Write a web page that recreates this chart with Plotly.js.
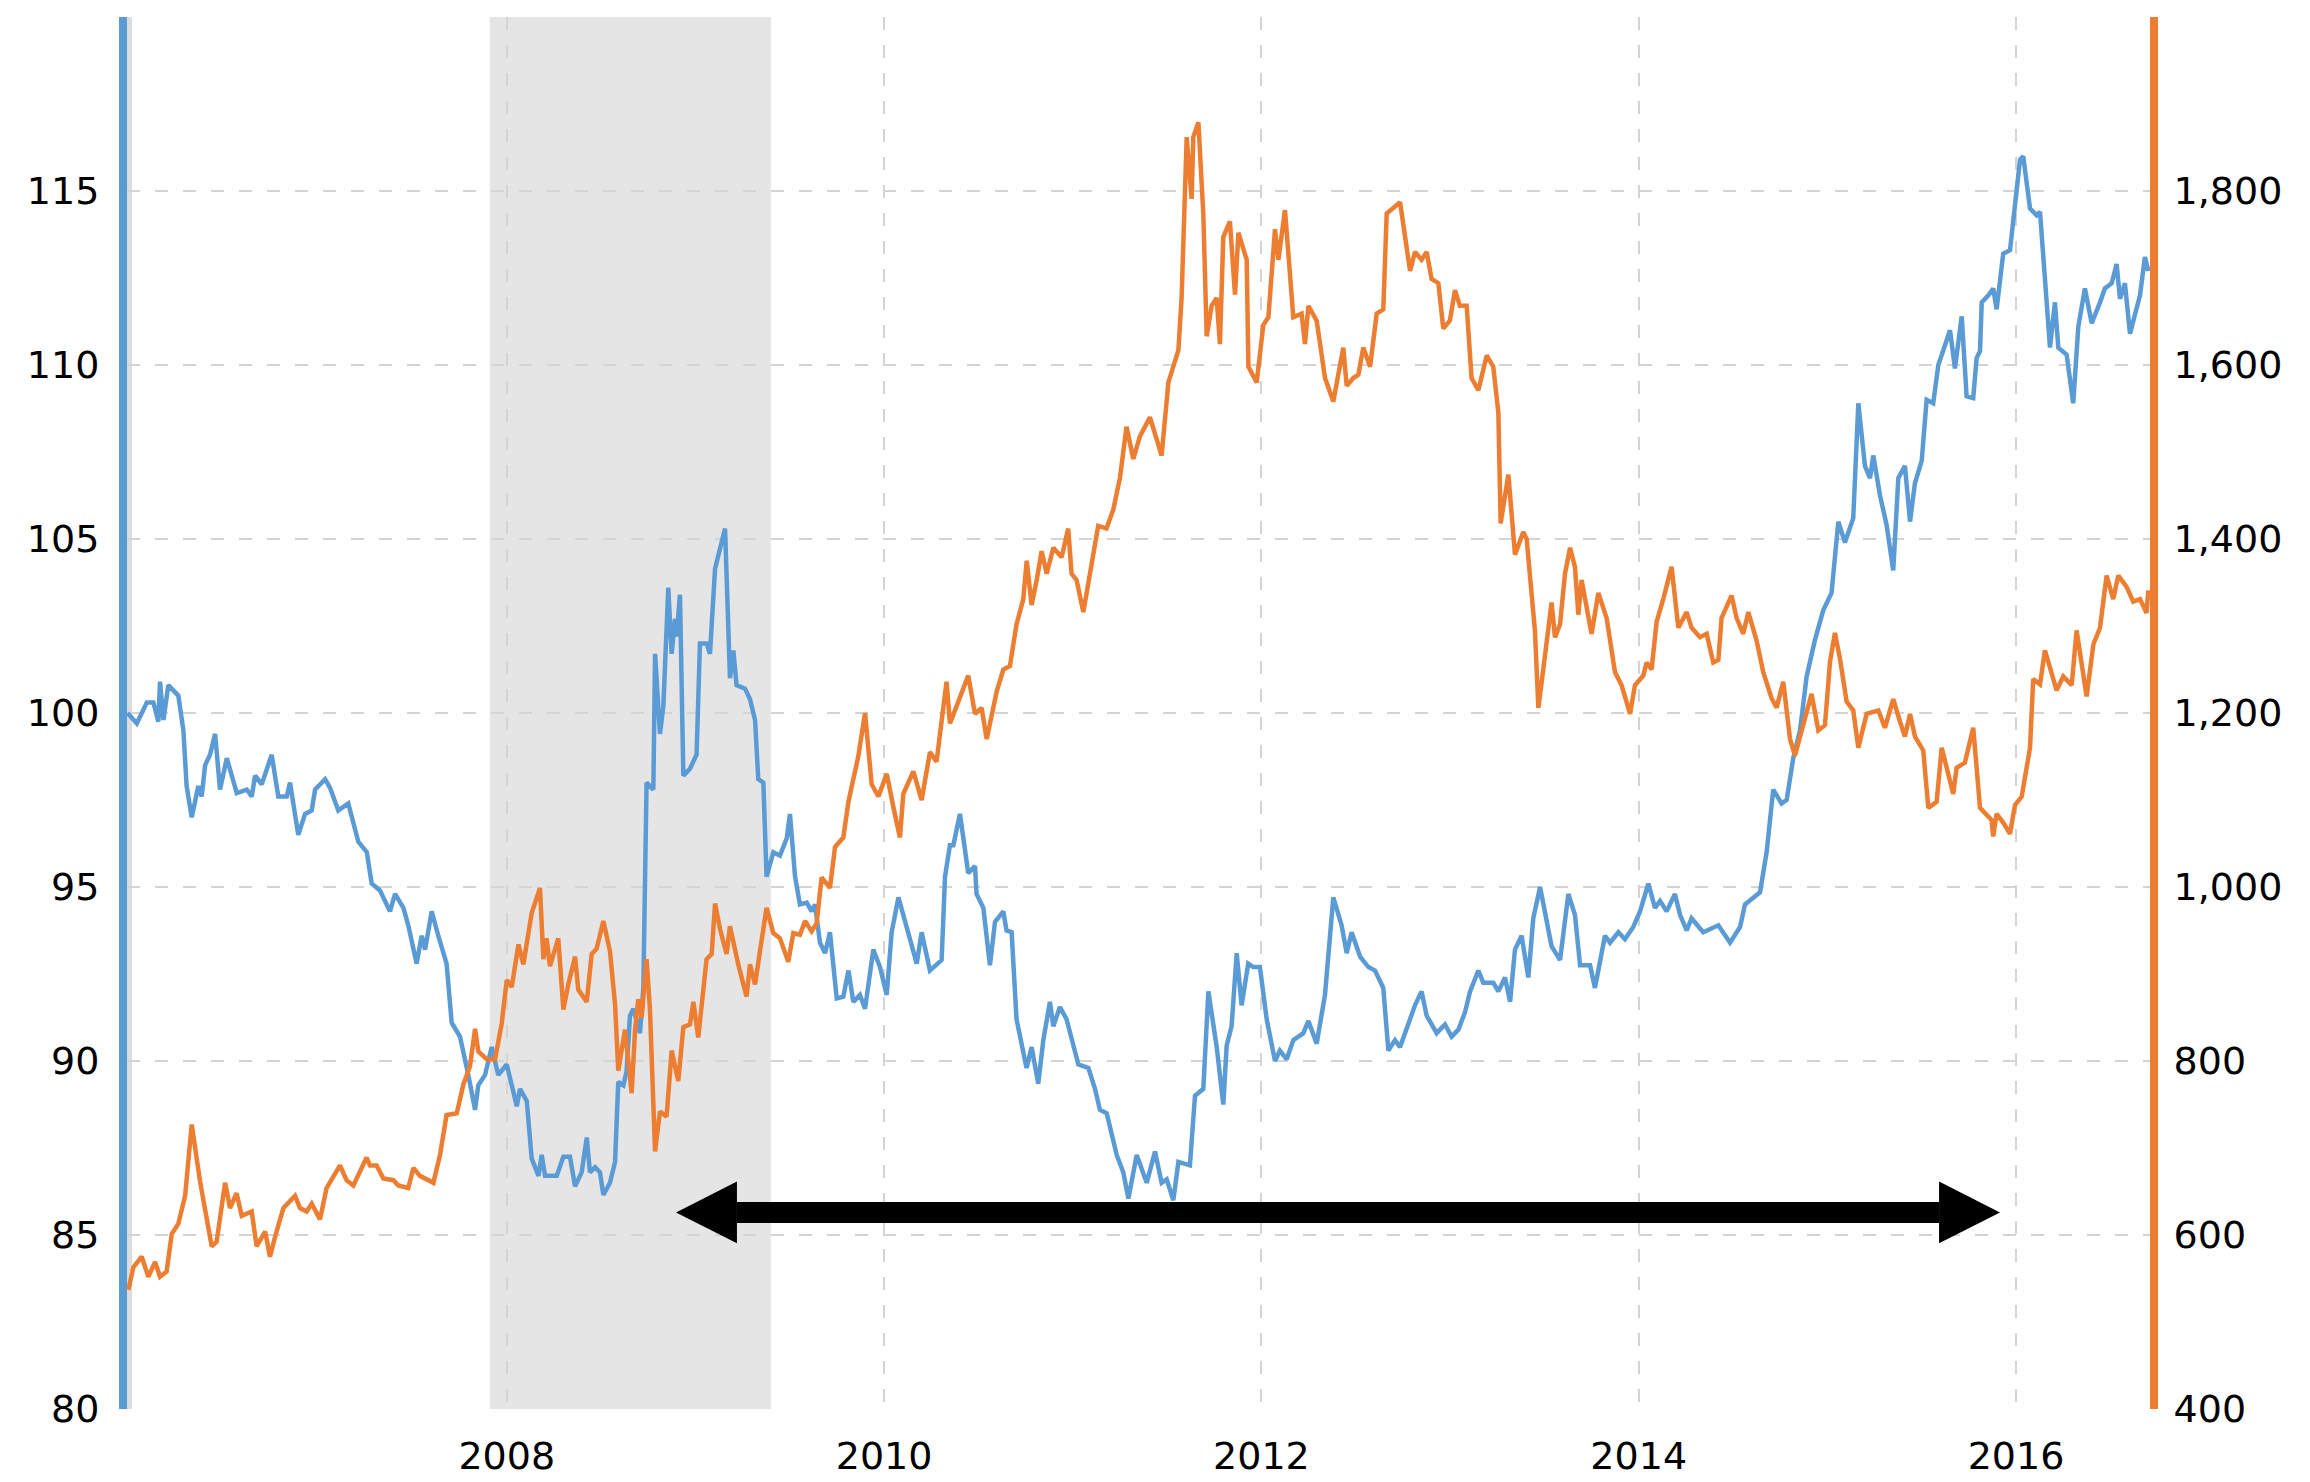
<!DOCTYPE html>
<html>
<head>
<meta charset="utf-8">
<script src="https://cdn.plot.ly/plotly-3.0.1.min.js"></script>
<style>html,body{margin:0;padding:0;background:#fff;}#chart{width:2310px;height:1482px;}</style>
</head>
<body>
<div id="chart"></div>
<script>
// ---- Data ----
// Blue series (left axis), x in decimal years
const blueYears = [
2005.99,2006.039,2006.092,2006.127,2006.153,2006.162,2006.18,2006.206,2006.259,2006.286,2006.303,2006.33,2006.365,2006.383,2006.401,2006.427,2006.454,2006.48,2006.516,2006.569,2006.622,2006.648,2006.666,2006.701,2006.754,2006.789,2006.834,2006.851,2006.895,2006.931,2006.966,2006.984,
2007.037,2007.063,2007.107,2007.16,2007.213,2007.258,2007.284,2007.328,2007.381,2007.408,2007.452,2007.478,2007.522,2007.549,2007.567,2007.602,2007.637,2007.681,2007.708,2007.752,2007.796,2007.832,2007.849,2007.885,2007.92,2007.955,
2008.0,2008.026,2008.053,2008.07,2008.106,2008.132,2008.168,2008.185,2008.203,2008.265,2008.3,2008.335,2008.362,2008.397,2008.424,2008.441,2008.468,2008.494,2008.512,2008.547,2008.574,2008.591,2008.618,2008.635,2008.653,2008.671,2008.706,2008.724,2008.741,2008.777,2008.786,2008.812,2008.83,2008.856,2008.874,2008.892,2008.9,2008.918,2008.936,2008.971,
2009.006,2009.024,2009.059,2009.077,2009.104,2009.157,2009.183,2009.201,2009.218,2009.263,2009.289,2009.316,2009.333,2009.36,2009.377,2009.413,2009.448,2009.484,2009.501,2009.528,2009.554,2009.59,2009.616,2009.634,2009.66,2009.687,2009.713,2009.749,2009.784,2009.811,2009.837,2009.872,2009.899,2009.943,2009.978,
2010.014,2010.04,2010.076,2010.12,2010.173,2010.199,2010.243,2010.305,2010.323,2010.349,2010.367,2010.402,2010.446,2010.482,2010.49,2010.526,2010.561,2010.588,2010.632,2010.649,2010.676,2010.702,2010.755,2010.782,2010.817,2010.844,2010.879,2010.897,2010.932,2010.967,2010.994,
2011.03,2011.083,2011.118,2011.144,2011.18,2011.233,2011.268,2011.295,2011.339,2011.392,2011.436,2011.471,2011.498,2011.533,2011.56,2011.621,2011.648,2011.692,2011.719,2011.763,2011.798,2011.816,2011.842,2011.869,2011.895,2011.93,2011.957,2011.992,
2012.028,2012.072,2012.098,2012.134,2012.169,2012.222,2012.249,2012.293,2012.337,2012.381,2012.425,2012.452,2012.478,2012.523,2012.567,2012.602,2012.646,2012.673,2012.708,2012.735,2012.77,2012.814,2012.849,2012.876,2012.929,2012.973,
2013.008,2013.044,2013.079,2013.106,2013.15,2013.176,2013.229,2013.256,2013.291,2013.318,2013.344,2013.379,2013.415,2013.441,2013.477,2013.512,2013.538,2013.583,2013.627,2013.662,2013.689,2013.742,2013.768,2013.821,2013.848,2013.892,2013.927,2013.971,
2014.007,2014.051,2014.086,2014.113,2014.148,2014.192,2014.219,2014.254,2014.28,2014.342,2014.422,2014.484,2014.537,2014.563,2014.607,2014.643,2014.678,2014.713,2014.757,2014.784,2014.819,2014.855,2014.89,2014.934,2014.978,
2015.022,2015.058,2015.093,2015.137,2015.164,2015.199,2015.226,2015.243,2015.279,2015.314,2015.349,2015.376,2015.411,2015.438,2015.464,2015.5,2015.526,2015.561,2015.588,2015.65,2015.676,2015.712,2015.738,2015.773,2015.791,2015.809,2015.818,2015.853,2015.879,2015.897,2015.932,2015.968,
2016.021,2016.038,2016.074,2016.109,2016.127,2016.18,2016.206,2016.224,2016.268,2016.303,2016.33,2016.365,2016.401,2016.445,2016.471,2016.507,2016.533,2016.551,2016.577,2016.604,2016.657,2016.683,2016.701
];
const blueValues = [
100,99.7,100.3,100.3,99.75,100.9,99.8,100.8,100.5,99.5,97.9,97.0,97.9,97.6,98.5,98.8,99.4,97.8,98.7,97.7,97.8,97.6,98.2,97.95,98.8,97.6,97.6,98.0,96.5,97.1,97.2,97.8,
98.1,97.85,97.2,97.4,96.3,96.0,95.1,94.9,94.3,94.8,94.4,93.9,92.8,93.6,93.2,94.3,93.6,92.8,91.1,90.7,89.6,88.6,89.3,89.6,90.4,89.6,
89.9,89.3,88.7,89.2,88.85,87.2,86.7,87.3,86.7,86.7,87.25,87.25,86.4,86.8,87.8,86.8,86.95,86.8,86.15,86.5,87.1,89.4,89.3,89.7,91.3,91.5,90.8,92.1,98.0,97.8,101.7,99.4,100.2,103.6,101.7,102.7,102.2,103.4,98.2,98.4,
98.8,102.0,102.0,101.7,104.15,105.3,101.0,101.8,100.8,100.7,100.4,99.8,98.1,98.0,95.3,96.0,95.9,96.4,97.1,95.3,94.5,94.55,94.3,94.5,93.4,93.1,93.7,91.8,91.85,92.6,91.7,91.9,91.5,93.2,92.7,
91.9,93.7,94.7,93.85,92.8,93.7,92.6,92.9,95.3,96.2,96.2,97.1,95.4,95.6,94.8,94.4,92.75,94.0,94.3,93.75,93.7,91.2,89.8,90.4,89.35,90.6,91.7,91.0,91.55,91.2,90.6,
89.9,89.8,89.2,88.6,88.5,87.3,86.8,86.05,87.3,86.5,87.4,86.5,86.6,86.0,87.1,87.0,89.0,89.2,92.0,90.4,88.75,90.45,91.0,93.1,91.6,92.8,92.7,92.7,
91.2,90.0,90.3,90.05,90.6,90.8,91.15,90.5,91.9,94.7,93.9,93.1,93.7,93.0,92.7,92.6,92.1,90.3,90.6,90.4,90.9,91.6,92.0,91.3,90.8,91.05,
90.7,90.9,91.4,92.0,92.6,92.25,92.25,92.0,92.4,91.7,93.2,93.6,92.4,94.1,95.0,94.1,93.3,92.9,94.8,94.2,92.75,92.75,92.1,93.6,93.4,93.7,93.5,93.85,
94.3,95.1,94.4,94.6,94.3,94.8,94.2,93.75,94.1,93.7,93.9,93.4,93.85,94.5,94.7,94.85,96.0,97.8,97.4,97.5,98.7,99.5,101.05,102.1,102.95,
103.45,105.5,104.9,105.6,108.9,107.1,106.75,107.4,106.25,105.4,104.1,106.75,107.1,105.5,106.6,107.25,109.0,108.9,110.0,111.0,109.9,111.4,109.1,109.05,110.2,110.4,111.8,112.0,112.2,111.6,113.2,113.3,
115.9,116.0,114.5,114.3,114.4,110.5,111.8,110.5,110.3,108.9,111.1,112.2,111.2,111.8,112.2,112.35,112.9,111.9,112.35,110.9,112.0,113.1,112.7
];

// Orange series (right axis), x in decimal years
const goldYears = [
2005.994,2006.021,2006.065,2006.1,2006.136,2006.162,2006.197,2006.224,2006.259,2006.295,2006.33,2006.374,2006.436,2006.462,2006.507,2006.533,2006.568,2006.595,2006.648,2006.674,2006.719,2006.745,2006.772,2006.816,2006.878,2006.904,2006.939,2006.966,
2007.01,2007.045,2007.116,2007.151,2007.187,2007.257,2007.275,2007.31,2007.346,2007.399,2007.425,2007.478,2007.505,2007.54,2007.611,2007.646,2007.681,2007.735,2007.77,2007.805,2007.832,2007.849,2007.894,2007.938,2007.973,
2008.0,2008.026,2008.062,2008.088,2008.132,2008.176,2008.194,2008.211,2008.229,2008.273,2008.3,2008.326,2008.362,2008.379,2008.424,2008.45,2008.476,2008.512,2008.547,2008.574,2008.591,2008.627,2008.662,2008.68,2008.697,2008.715,2008.741,2008.759,2008.786,2008.812,2008.847,2008.874,2008.909,2008.936,2008.971,2008.989,
2009.015,2009.059,2009.086,2009.104,2009.13,2009.165,2009.183,2009.227,2009.271,2009.289,2009.316,2009.342,2009.377,2009.413,2009.448,2009.492,2009.519,2009.554,2009.581,2009.616,2009.642,2009.669,2009.713,2009.74,2009.784,2009.811,2009.863,2009.899,2009.934,2009.97,
2010.014,2010.049,2010.084,2010.102,2010.155,2010.199,2010.243,2010.278,2010.331,2010.349,2010.393,2010.446,2010.482,2010.517,2010.544,2010.597,2010.632,2010.667,2010.702,2010.738,2010.756,2010.782,2010.809,2010.835,2010.862,2010.897,2010.941,2010.976,2010.994,
2011.02,2011.056,2011.091,2011.135,2011.179,2011.215,2011.25,2011.285,2011.321,2011.356,2011.409,2011.471,2011.507,2011.56,2011.577,2011.604,2011.63,2011.639,2011.666,2011.692,2011.71,2011.736,2011.763,2011.78,2011.798,2011.833,2011.86,2011.878,2011.922,2011.931,2011.975,
2012.01,2012.037,2012.072,2012.09,2012.125,2012.169,2012.213,2012.231,2012.249,2012.293,2012.337,2012.381,2012.434,2012.452,2012.487,2012.514,2012.54,2012.576,2012.611,2012.646,2012.664,2012.735,2012.788,2012.814,2012.849,2012.876,2012.902,2012.938,2012.964,2012.999,
2013.026,2013.052,2013.088,2013.114,2013.15,2013.194,2013.229,2013.256,2013.268,2013.309,2013.344,2013.388,2013.406,2013.45,2013.468,2013.494,2013.538,2013.556,2013.583,2013.609,2013.636,2013.662,2013.68,2013.697,2013.724,2013.75,2013.786,2013.83,2013.874,2013.909,2013.954,2013.98,
2014.024,2014.042,2014.068,2014.095,2014.13,2014.174,2014.21,2014.254,2014.28,2014.325,2014.36,2014.395,2014.422,2014.439,2014.492,2014.519,2014.554,2014.581,2014.625,2014.66,2014.704,2014.731,2014.766,2014.802,2014.828,2014.881,2014.916,2014.952,2014.987,
2015.014,2015.04,2015.067,2015.102,2015.137,2015.164,2015.208,2015.27,2015.305,2015.349,2015.385,2015.411,2015.438,2015.464,2015.508,2015.535,2015.579,2015.606,2015.667,2015.685,2015.729,2015.773,2015.809,2015.87,2015.879,2015.897,2015.932,2015.968,2015.994,
2016.03,2016.074,2016.091,2016.127,2016.153,2016.215,2016.25,2016.295,2016.321,2016.374,2016.41,2016.445,2016.48,2016.515,2016.542,2016.586,2016.621,2016.657,2016.692,2016.701
];
const goldValues = [
537,563,575,552,569,552,558,601,613,645,727,662,587,592,660,631,648,622,627,587,604,575,598,631,645,631,627,636,
618,654,680,663,657,689,680,680,665,663,657,654,677,668,660,692,738,740,773,794,837,811,802,802,843,
893,885,934,911,970,999,917,941,909,941,859,888,920,882,868,923,929,961,926,865,789,836,763,836,871,850,917,859,696,742,736,812,777,839,842,868,
827,917,923,981,952,923,955,911,874,911,888,926,976,947,941,914,947,945,961,949,958,1011,999,1046,1057,1098,1150,1200,1118,1104,
1130,1092,1057,1107,1133,1100,1155,1144,1236,1188,1214,1243,1199,1206,1170,1225,1250,1254,1302,1331,1375,1324,1353,1386,1360,1390,1379,1412,1360,
1353,1316,1360,1415,1412,1434,1470,1529,1492,1518,1540,1496,1580,1617,1677,1862,1791,1862,1879,1774,1633,1668,1677,1624,1747,1765,1681,1752,1721,1598,1580,
1646,1655,1756,1721,1778,1655,1659,1624,1668,1651,1585,1558,1620,1576,1585,1589,1620,1598,1659,1664,1774,1787,1708,1730,1721,1730,1699,1694,1642,1651,
1686,1668,1668,1585,1571,1611,1598,1545,1418,1474,1382,1408,1400,1294,1206,1250,1327,1287,1302,1360,1390,1368,1313,1353,1324,1291,1338,1309,1247,1232,1199,1232,
1243,1258,1250,1305,1331,1368,1298,1316,1298,1287,1291,1258,1261,1309,1335,1309,1291,1316,1283,1247,1217,1206,1236,1170,1151,1193,1222,1180,1186,
1259,1292,1262,1213,1203,1160,1199,1203,1183,1216,1190,1173,1199,1173,1157,1091,1098,1160,1107,1137,1143,1183,1091,1077,1058,1084,1074,1061,1094,
1104,1160,1239,1233,1272,1226,1242,1232,1295,1219,1279,1298,1358,1331,1358,1345,1328,1331,1315,1341
];

// Axis ticks
const xTickVals = [2008, 2010, 2012, 2014, 2016];
const xTickText = ['2008', '2010', '2012', '2014', '2016'];
const leftTickVals = [80, 85, 90, 95, 100, 105, 110, 115, 120];
const leftTickText = ['80', '85', '90', '95', '100', '105', '110', '115', ''];
const rightTickVals = [400, 600, 800, 1000, 1200, 1400, 1600, 1800, 2000];
const rightTickText = ['400', '600', '800', '1,000', '1,200', '1,400', '1,600', '1,800', ''];

// Recession band and arrow annotation (data coordinates)
const recession = [2007.91, 2009.40];
const arrowTips = [2008.897, 2015.915];
const arrowLevel = 85.65;
const arrowHeadLen = 0.323;   // years
const arrowHeadHalf = 0.89;   // left-axis units

const BLUE = '#5b9bd5';
const ORANGE = '#ed7d31';
const GRID = '#d4d4d4';
const FONT = 'DejaVu Sans, Verdana, sans-serif';

const traces = [
  {x: blueYears, y: blueValues, type: 'scatter', mode: 'lines', yaxis: 'y',
   line: {color: BLUE, width: 4.5}, hoverinfo: 'x+y'},
  {x: goldYears, y: goldValues, type: 'scatter', mode: 'lines', yaxis: 'y2',
   line: {color: ORANGE, width: 4.5}, hoverinfo: 'x+y'}
];

const lb = arrowTips[0] + arrowHeadLen, rb = arrowTips[1] - arrowHeadLen;
const shapes = [
  {type: 'rect', xref: 'x', yref: 'paper', x0: recession[0], x1: recession[1], y0: 0, y1: 1,
   fillcolor: 'rgba(0,0,0,0.1)', line: {width: 0}, layer: 'between'},
  {type: 'line', xref: 'x', yref: 'paper', x0: 2006, x1: 2006, y0: 0, y1: 1,
   line: {color: '#dcdcdc', width: 5}, layer: 'below'},
  {type: 'line', xref: 'x', yref: 'y', x0: lb, x1: rb, y0: arrowLevel, y1: arrowLevel,
   line: {color: '#000', width: 21}, layer: 'above'},
  {type: 'path', xref: 'x', yref: 'y', layer: 'above', fillcolor: '#000', line: {width: 0},
   path: `M${lb},${arrowLevel + arrowHeadHalf} L${arrowTips[0]},${arrowLevel} L${lb},${arrowLevel - arrowHeadHalf} Z`},
  {type: 'path', xref: 'x', yref: 'y', layer: 'above', fillcolor: '#000', line: {width: 0},
   path: `M${rb},${arrowLevel + arrowHeadHalf} L${arrowTips[1]},${arrowLevel} L${rb},${arrowLevel - arrowHeadHalf} Z`}
];

const tickFont = {family: FONT, size: 38, color: '#000'};

const layout = {
  width: 2310, height: 1482,
  margin: {l: 127, r: 160, t: 17, b: 73, pad: 0},
  paper_bgcolor: '#fff', plot_bgcolor: '#fff',
  showlegend: false,
  xaxis: {
    range: [2005.987, 2016.71], tickvals: xTickVals, ticktext: xTickText,
    showgrid: true, gridcolor: GRID, gridwidth: 2, griddash: '13px,15px',
    zeroline: false, showline: false, ticks: '', tickfont: tickFont, ticklabelstandoff: 21
  },
  yaxis: {
    range: [80, 120], tickvals: leftTickVals, ticktext: leftTickText,
    showgrid: true, gridcolor: GRID, gridwidth: 2, griddash: '13px,15px',
    zeroline: false, showline: true, linecolor: BLUE, linewidth: 8,
    ticks: '', tickfont: tickFont, ticklabelstandoff: 12
  },
  yaxis2: {
    range: [400, 2000], tickvals: rightTickVals, ticktext: rightTickText,
    overlaying: 'y', side: 'right', showgrid: false, zeroline: false,
    showline: true, linecolor: ORANGE, linewidth: 8,
    ticks: '', tickfont: tickFont, ticklabelstandoff: 8
  },
  shapes: shapes
};

Plotly.newPlot('chart', traces, layout, {staticPlot: true, displayModeBar: false});
</script>
</body>
</html>
